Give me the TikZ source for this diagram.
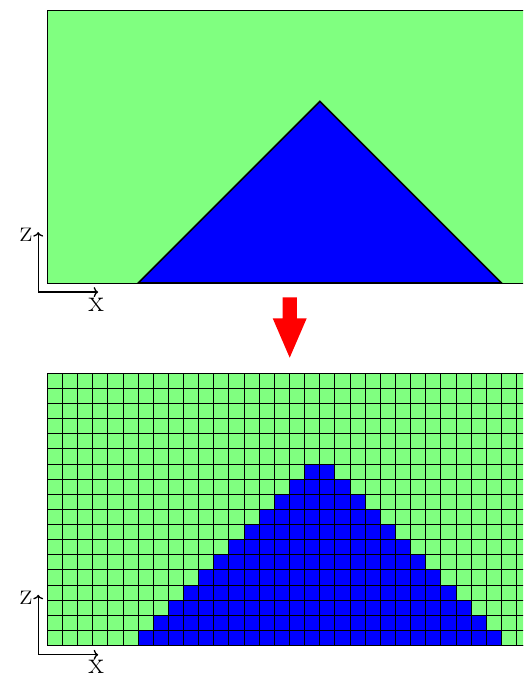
\documentclass[tikz,border=0pt]{standalone}
\usetikzlibrary{arrows.meta}
\definecolor{lgreen}{RGB}{128,255,128}
\definecolor{dblue}{RGB}{0,0,255}
\newcommand{\labsize}{\fontsize{31}{31}\selectfont}
\begin{document}
\begin{tikzpicture}[x=1pt,y=1pt,
  cellscope/.style={x=15.14pt,y=15.14pt},
  axisline/.style={line width=1.3pt,-{To[length=4.5pt,width=10pt]}},
  axislabel/.style={inner sep=0.5pt}]
\useasboundingbox (0,0) rectangle (523,679);
\clip (0,0) rectangle (523,679);
% top panel
\begin{scope}[shift={(47.3,396)},cellscope]
  \fill[lgreen] (0,0) rectangle (32,18);
  \draw[line width=0.8pt] (0,0) rectangle (32,18);
  \node[coordinate] (t1) at (6,0) {};
  \node[coordinate] (t2) at (30,0) {};
  \node[coordinate] (t3) at (18,12) {};
  \filldraw[fill=dblue,draw=black,line width=1.6pt,line join=miter] (t1) -- (t3) -- (t2) -- cycle;
  \coordinate (o1) at (-0.6,-0.6);
  \coordinate (z1) at (-0.6,3.36);
  \coordinate (x1) at (3.36,-0.6);
  \draw[axisline] (o1) -- (z1);
  \draw[axisline] (o1) -- (x1);
  \node[axislabel,anchor=east] (zl1) at ([xshift=-5pt,yshift=-3pt]z1) {\labsize z};
  \node[axislabel,anchor=north] (xl1) at ([xshift=-2pt,yshift=-5pt]x1) {\labsize x};
\end{scope}
% red arrow
\fill[red] (282.5,381.7) -- (296.9,381.7) -- (296.9,360.7) -- (306.7,360.7)
  -- (289.7,321.3) -- (272.7,360.7) -- (282.5,360.7) -- cycle;
% bottom panel
\begin{scope}[shift={(47.3,33.3)},cellscope]
  \fill[lgreen] (0,0) rectangle (32,18);
  \foreach \k in {0,...,11} {
    \fill[dblue] ({6+\k},\k) rectangle ({30-\k},{\k+1});
  }
  \draw[line width=1pt,step=1] (0,0) grid (32,18);
  \draw[line width=1pt] (0,0) rectangle (32,18);
  \coordinate (o2) at (-0.6,-0.6);
  \coordinate (z2) at (-0.6,3.36);
  \coordinate (x2) at (3.36,-0.6);
  \draw[axisline] (o2) -- (z2);
  \draw[axisline] (o2) -- (x2);
  \node[axislabel,anchor=east] (zl2) at ([xshift=-5pt,yshift=-3pt]z2) {\labsize z};
  \node[axislabel,anchor=north] (xl2) at ([xshift=-2pt,yshift=-5pt]x2) {\labsize x};
\end{scope}
\end{tikzpicture}
\end{document}
